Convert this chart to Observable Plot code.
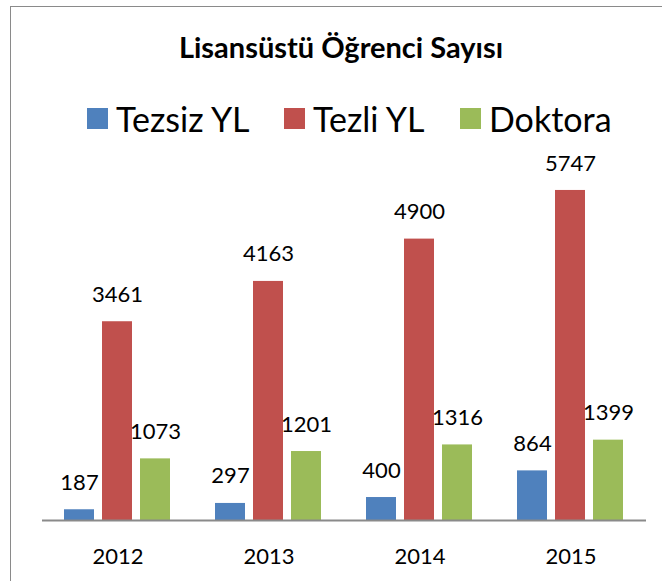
<!DOCTYPE html>
<html>
<head>
<meta charset="utf-8">
<script src="https://cdn.jsdelivr.net/npm/d3@7"></script>
<script src="https://cdn.jsdelivr.net/npm/@observablehq/plot@0.6"></script>
<style>
  html, body { margin: 0; padding: 0; width: 662px; height: 581px; overflow: hidden; background: #fff; font-family: Lato, "Open Sans", sans-serif; }
  #frame { position: absolute; left: 10px; top: 6px; width: 700px; height: 700px; border: 1px solid #8a8a8a; box-sizing: border-box; }
  #title { position: absolute; left: 0; width: 682px; top: 29px; text-align: center; font-weight: bold; font-size: 29px; color: #000; }
  .leg { position: absolute; top: 98px; display: flex; align-items: center; font-size: 34px; color: #000; }
  .sw { width: 21px; height: 21px; margin-right: 8px; }
  #chart { position: absolute; left: 0; top: 0; }
</style>
</head>
<body>
<div id="frame"></div>
<div id="chart"></div>
<div id="title">Lisansüstü Öğrenci Sayısı</div>
<div id="legend"></div>
<script>
const years = ["2012", "2013", "2014", "2015"];
const series = ["Tezsiz YL", "Tezli YL", "Doktora"];
const colors = ["#4F81BD", "#C0504D", "#9BBB59"];
const tezsiz = [187, 297, 400, 864];
const tezli = [3461, 4163, 4900, 5747];
const doktora = [1073, 1201, 1316, 1399];
const legendLeft = [87, 284, 460];

const values = [tezsiz, tezli, doktora];
const data = [];
years.forEach((y, i) => series.forEach((s, j) => data.push({year: y, series: s, value: values[j][i]})));

const plot = Plot.plot({
  width: 662,
  height: 581,
  marginLeft: 41,
  marginRight: 16,
  marginTop: 118,
  marginBottom: 61,
  style: {fontFamily: "Lato, 'Open Sans', sans-serif", fontSize: "22px", color: "#000"},
  fx: {domain: years, paddingInner: 0, paddingOuter: 0, axis: "bottom", tickSize: 0, tickPadding: 28, label: null},
  x: {domain: series, paddingInner: 0.21, paddingOuter: 0.59, axis: null},
  y: {domain: [0, 7000], axis: null},
  color: {domain: series, range: colors},
  marks: [
    Plot.barY(data, {fx: "year", x: "series", y: "value", fill: "series"}),
    Plot.ruleY([0], {stroke: "#8a8a8a", strokeWidth: 2}),
    Plot.text(data, {fx: "year", x: "series", y: "value", text: d => String(d.value), dy: -27, fontSize: 22, fill: "#000"})
  ]
});
document.getElementById("chart").appendChild(plot);

const leg = document.getElementById("legend");
series.forEach((s, j) => {
  const item = document.createElement("div");
  item.className = "leg";
  item.style.left = legendLeft[j] + "px";
  const sw = document.createElement("div");
  sw.className = "sw";
  sw.style.background = colors[j];
  const t = document.createElement("span");
  t.textContent = s;
  item.appendChild(sw);
  item.appendChild(t);
  leg.appendChild(item);
});
</script>
</body>
</html>
